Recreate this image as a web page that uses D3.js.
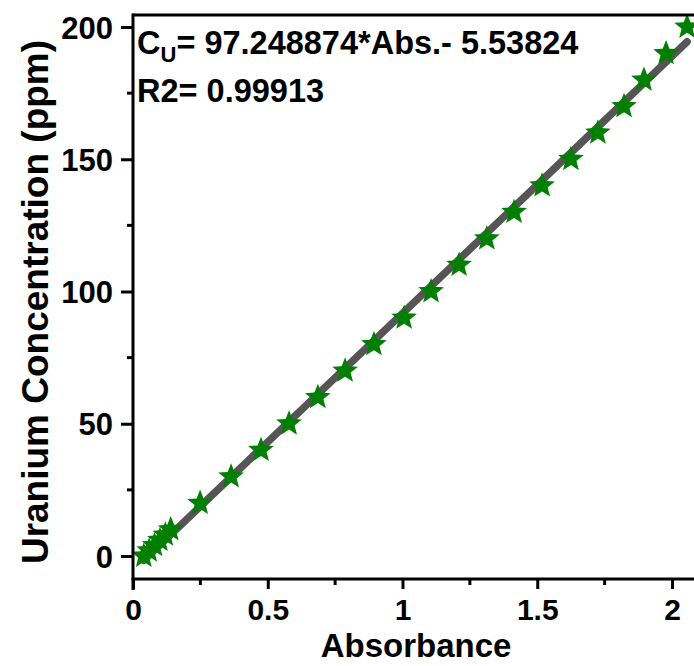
<!DOCTYPE html>
<html><head><meta charset="utf-8">
<script src="https://cdn.jsdelivr.net/npm/d3@7"></script>
<style>body{margin:0;background:#fff}svg{display:block}text{font-family:"Liberation Sans",Arial,sans-serif;font-weight:bold;fill:#000}</style>
</head><body>
<script>
const absorbance = [0.04,0.06,0.08,0.10,0.12,0.14,0.249,0.364,0.475,0.579,0.686,0.787,0.894,1.006,1.106,1.21,1.313,1.414,1.518,1.625,1.725,1.822,1.896,1.978,2.056];
const concentration = [0,2,4,6,8,10,20,30,40,50,60,70,80,90,100,110,120,130,140,150,160,170,180,190,200];
const fitSlope = 97.248874, fitIntercept = -5.53824;
const fitRange = [0.04, 2.056];
const xTicks = [0,0.5,1,1.5,2];
const xTickLabels = ["0","0.5","1","1.5","2"];
const yTicks = [0,50,100,150,200];
const xMinor = [0.25,0.75,1.25,1.75];
const yMinor = [25,75,125,175];
const eqText = ["C", "U", "= 97.248874*Abs.- 5.53824"];
const r2Text = "R2= 0.99913";

(function(){
const W=694,H=666;
const svg=d3.select("body").append("svg").attr("width",W).attr("height",H);
const x=d3.scaleLinear().domain([0,2]).range([133,672]);
const y=d3.scaleLinear().domain([0,200]).range([556,27]);
const pl=133,pr=W,pt=15,pb=579;

const line=d3.line().x(d=>x(d)).y(d=>y(fitSlope*d+fitIntercept));
svg.append("path").datum(fitRange).attr("d",line).attr("fill","none")
  .attr("stroke","#555555").attr("stroke-width",7.5).attr("stroke-linecap","round");

function starPath(R,r){let p=[];for(let i=0;i<10;i++){const a=-Math.PI/2+i*Math.PI/5;const rr=i%2?r:R;p.push([rr*Math.cos(a),rr*Math.sin(a)]);}return "M"+p.map(q=>q[0].toFixed(2)+","+q[1].toFixed(2)).join("L")+"Z";}
const sp=starPath(13.5,5.8);
svg.selectAll("path.star").data(absorbance).enter().append("path").attr("class","star")
  .attr("d",sp).attr("transform",(d,i)=>`translate(${x(d)},${y(concentration[i])})`)
  .attr("fill","#008000");

svg.append("line").attr("x1",pl).attr("x2",pr).attr("y1",pt).attr("y2",pt).attr("stroke","#000").attr("stroke-width",3);

const gx=svg.append("g").attr("transform",`translate(0,${pb})`);
gx.call(d3.axisBottom(x).tickValues(xTicks).tickFormat((d,i)=>xTickLabels[i]).tickSize(10).tickSizeOuter(0));
gx.selectAll(".tick line").attr("stroke-width",3);
gx.selectAll(".tick text").attr("font-size",30).attr("y",41).attr("dy",0);
gx.select(".domain").remove();
gx.append("line").attr("x1",pl-1.5).attr("x2",pr).attr("stroke","#000").attr("stroke-width",3);
gx.selectAll("line.minor").data(xMinor).enter().append("line").attr("x1",d=>x(d)).attr("x2",d=>x(d)).attr("y1",0).attr("y2",6).attr("stroke","#000").attr("stroke-width",3);

const gy=svg.append("g").attr("transform",`translate(${pl},0)`);
gy.call(d3.axisLeft(y).tickValues(yTicks).tickSize(12).tickSizeOuter(0));
gy.selectAll(".tick line").attr("stroke-width",3);
gy.selectAll(".tick text").attr("font-size",31).attr("x",-20).attr("dy","0.36em");
gy.select(".domain").remove();
gy.append("line").attr("y1",pt-1.5).attr("y2",pb+11).attr("stroke","#000").attr("stroke-width",3);
gy.selectAll("line.minor").data(yMinor).enter().append("line").attr("y1",d=>y(d)).attr("y2",d=>y(d)).attr("x1",0).attr("x2",-6).attr("stroke","#000").attr("stroke-width",3);
svg.selectAll("g").attr("font-family",null);
svg.selectAll("g.tick text").attr("fill","#000");

svg.append("text").attr("x",416).attr("y",657).attr("text-anchor","middle").attr("font-size",33).text("Absorbance");
svg.append("text").attr("transform",`translate(48,302) rotate(-90)`).attr("text-anchor","middle").attr("font-size",37).text("Uranium Concentration (ppm)");

const t=svg.append("text").attr("x",137).attr("y",54).attr("font-size",32.5);
t.append("tspan").text(eqText[0]);
t.append("tspan").attr("font-size",22).attr("dy",8).text(eqText[1]);
t.append("tspan").attr("dy",-8).text(eqText[2]);
svg.append("text").attr("x",137).attr("y",102).attr("font-size",32.5).text(r2Text);
})();
</script>
</body></html>
